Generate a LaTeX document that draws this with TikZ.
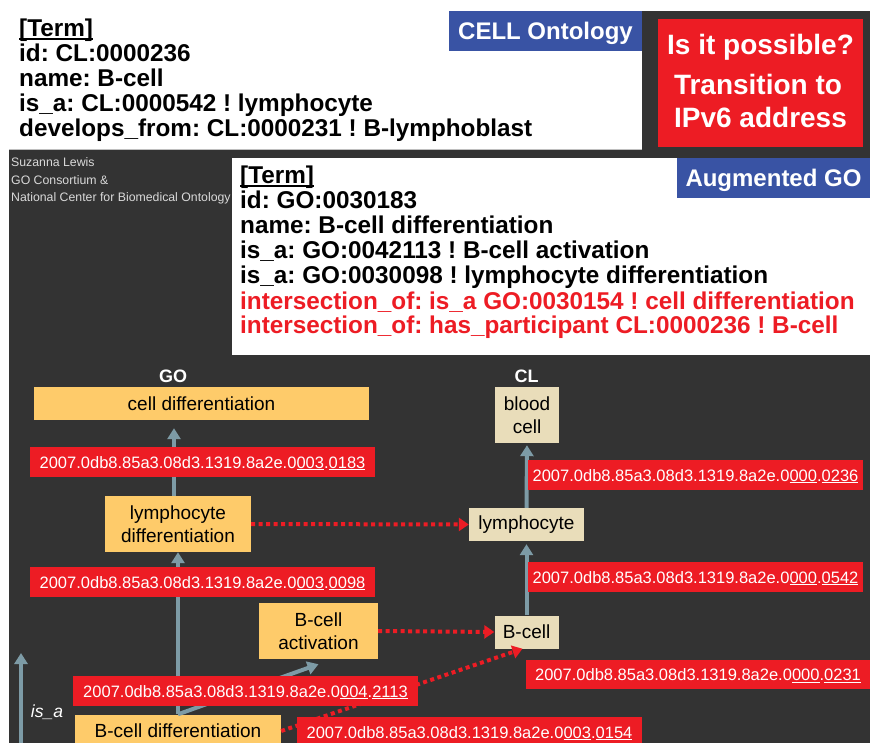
\documentclass[tikz,border=0pt]{standalone}
\usepackage{fontspec}
\setmainfont{Liberation Sans}
\usetikzlibrary{arrows.meta}
\frenchspacing
\definecolor{darkbg}{HTML}{333333}
\definecolor{gofill}{HTML}{FECB6A}
\definecolor{clfill}{HTML}{E9DDBA}
\definecolor{addrred}{HTML}{ED1C24}
\definecolor{tagblue}{HTML}{3953A4}
\definecolor{isagray}{HTML}{7D9BA6}
\definecolor{credit}{HTML}{D9D9D9}
\newcommand{\ipaddr}[2]{2007.0db8.85a3.08d3.1319.8a2e.0\underline{#1}.\underline{#2}}
\tikzset{
  termline/.style={anchor=base west, inner sep=0pt, font=\fontsize{24.3}{25}\selectfont\bfseries},
  tag/.style={fill=tagblue, text=white, inner sep=0pt, text depth=0pt, font=\fontsize{24}{25}\selectfont\bfseries},
  qline/.style={anchor=base, inner sep=0pt, text=white, font=\fontsize{28}{30}\selectfont\bfseries},
  creditline/.style={anchor=base west, inner sep=0pt, text=credit, font=\fontsize{12.3}{14}\selectfont},
  ontoname/.style={anchor=base, inner sep=0pt, text=white, font=\fontsize{18}{20}\selectfont\bfseries},
  gobox/.style={fill=gofill, text=black, inner sep=0pt, align=center, font=\fontsize{19}{22.5}\selectfont},
  clbox/.style={gobox, fill=clfill},
  addr/.style={fill=addrred, text=white, inner sep=0pt, minimum width=345pt, minimum height=30pt,
    text height=12pt, text depth=0pt, font=\fontsize{16.5}{18}\selectfont},
  isa/.style={draw=isagray, line width=4pt, -{Triangle[length=11pt,width=13pt]}},
  part/.style={draw=addrred, line width=4pt, dash pattern=on 4pt off 3.5pt, -{Triangle[length=10pt,width=13pt]}},
}
\begin{document}
\begin{tikzpicture}[x=1pt, y=-1pt]
    \useasboundingbox (0,0) rectangle (870,743);
    % Background
    \fill[white] (0,0) rectangle (870,743);
    \fill[darkbg] (9,150) rectangle (870,743);
    \fill[darkbg] (642,11) rectangle (870,158);
    \draw[gray!50, line width=1pt] (9,150) -- (642,150);
    \fill[white] (232,158) rectangle (870,355);
    % Cell ontology term
    \node[tag, minimum width=193pt, minimum height=40pt] (celltag) at (545.5,31) {CELL Ontology};
    \node[termline] (cltitle) at (19,37) {[Term]};
    \draw[line width=2pt] ([yshift=-2.5pt]cltitle.base west) -- ([yshift=-2.5pt]cltitle.base east);
    \node[termline] (clid) at (19,62) {id: CL:0000236};
    \node[termline] (clname) at (19,87) {name: B-cell};
    \node[termline] (clisa) at (19,112) {is\_a: CL:0000542 ! lymphocyte};
    \node[termline] (cldev) at (19,137) {develops\_from: CL:0000231 ! B-lymphoblast};
    % Question box
    \node[fill=addrred, minimum width=205pt, minimum height=128pt, inner sep=0pt] (qbox) at (760.5,83) {};
    \node[qline] (q1) at (760.5,55) {Is it possible?};
    \node[qline] (q2) at (758,95) {Transition to};
    \node[qline] (q3) at (760.5,128) {IPv6 address};
    % Credits
    \node[creditline] (cr1) at (11,167) {Suzanna Lewis};
    \node[creditline] (cr2) at (11,184.5) {GO Consortium \&};
    \node[creditline] (cr3) at (11,202) {National Center for Biomedical Ontology};
    % Augmented GO term
    \node[tag, minimum width=193pt, minimum height=40pt] (gotag) at (773.5,178) {Augmented GO};
    \node[termline] (gotitle) at (240,184) {[Term]};
    \draw[line width=2pt] ([yshift=-2.5pt]gotitle.base west) -- ([yshift=-2.5pt]gotitle.base east);
    \node[termline] (goid) at (240,209) {id: GO:0030183};
    \node[termline] (goname) at (240,234) {name: B-cell differentiation};
    \node[termline] (goisa1) at (240,259) {is\_a: GO:0042113 ! B-cell activation};
    \node[termline] (goisa2) at (240,284) {is\_a: GO:0030098 ! lymphocyte differentiation};
    \node[termline, text=addrred] (gointer1) at (240,309) {intersection\_of: is\_a GO:0030154 ! cell differentiation};
    \node[termline, text=addrred] (gointer2) at (240,334) {intersection\_of: has\_participant CL:0000236 ! B-cell};
    % Ontology names
    \node[ontoname] (golbl) at (173,382) {GO};
    \node[ontoname] (cllbl) at (526.5,382) {CL};
    % GO terms
    \node[gobox, minimum width=335pt, minimum height=33pt] (celldiff) at (201.5,403.5) {cell differentiation};
    \node[gobox, minimum width=146pt, minimum height=56pt] (lymphdiff) at (178,524) {lymphocyte\\differentiation};
    \node[gobox, minimum width=119pt, minimum height=56pt] (bactiv) at (318.5,631) {B-cell\\activation};
    \node[gobox, minimum width=206pt, minimum height=33pt] (bdiff) at (178,731) {B-cell differentiation};
    % CL terms
    \node[clbox, minimum width=64pt, minimum height=56pt] (bloodcell) at (527,415) {blood\\cell};
    \node[clbox, minimum width=115pt, minimum height=33pt] (lymph) at (526.5,524.5) {lymphocyte};
    \node[clbox, minimum width=64pt, minimum height=33pt] (bcell) at (526.5,632) {B-cell};
    % is_a links
    \draw[isa, shorten >=8pt] ([xshift=-4pt]lymphdiff.north) -- ([xshift=-4pt]lymphdiff.north |- celldiff.south);
    \draw[isa] (bdiff.north) -- (lymphdiff.south);
    \draw[isa] (bdiff.north) -- ([yshift=-5pt]bactiv.south);
    \draw[isa, shorten >=2pt] (lymph.north) -- (bloodcell.south);
    \draw[isa, shorten >=3pt] (bcell.north) -- (lymph.south);
    % Participant links
    \draw[part] (lymphdiff.east) -- (lymph.west);
    \draw[part] (bactiv.east) -- (bcell.west);
    \draw[part] (bdiff.east) -- ([xshift=-4pt]bcell.south);
    % Addresses
    \node[addr] (a0183) at (202.5,462) {\ipaddr{003}{0183}};
    \node[addr] (a0098) at (202.5,582) {\ipaddr{003}{0098}};
    \node[addr] (a2113) at (245.5,691) {\ipaddr{004}{2113}};
    \node[addr] (a0154) at (469.5,732) {\ipaddr{003}{0154}};
    \node[addr, minimum width=335pt] (a0236) at (695.5,475) {\ipaddr{000}{0236}};
    \node[addr, minimum width=335pt] (a0542) at (695.5,577) {\ipaddr{000}{0542}};
    \node[addr, minimum width=344pt, minimum height=29pt] (a0231) at (698,674.5) {\ipaddr{000}{0231}};
    % Legend
    \coordinate (isafoot) at (21,743);
    \coordinate (isahead) at (21,653);
    \draw[isa] (isafoot) -- (isahead);
    \node[anchor=base, inner sep=0pt, text=white, font=\fontsize{17.5}{20}\selectfont\itshape] (isalbl) at (47,717) {is\_a};
\end{tikzpicture}
\end{document}
